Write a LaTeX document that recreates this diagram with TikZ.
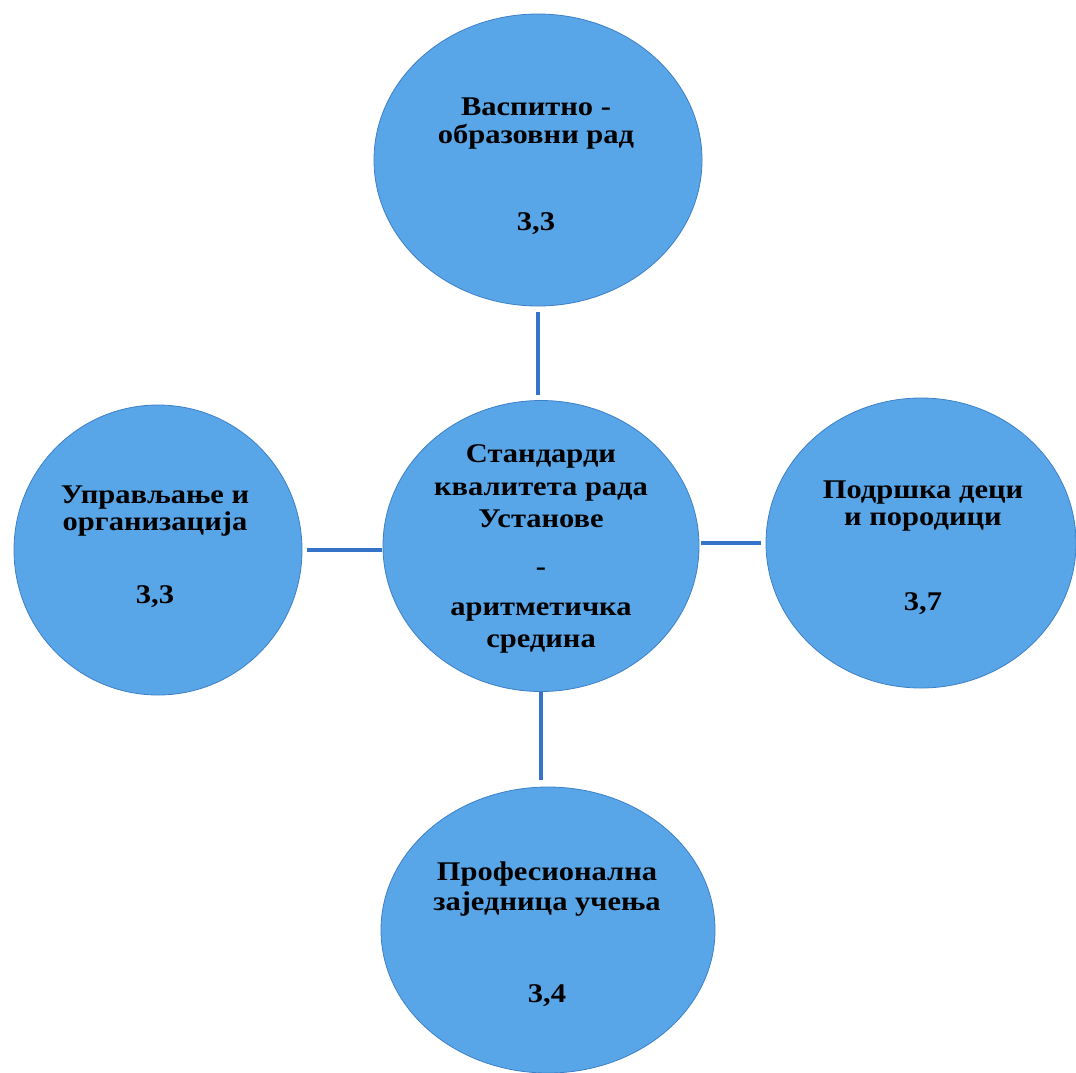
\documentclass[tikz,border=0pt]{standalone}
\usepackage{fontspec}
\setmainfont{Liberation Serif}[FakeStretch=1.13]
\usetikzlibrary{shapes.geometric}
\definecolor{bubblefill}{RGB}{88,166,232}
\definecolor{bubbleedge}{RGB}{62,128,200}
\definecolor{connblue}{RGB}{52,115,200}
\tikzset{
  bubble/.style={ellipse, fill=bubblefill, draw=bubbleedge, line width=0.8pt, inner sep=0pt},
  conn/.style={draw=connblue, line width=4.5pt},
  lbl/.style={anchor=base, inner sep=0pt, font=\fontsize{27}{30}\selectfont\bfseries, text=black}
}
\begin{document}
\begin{tikzpicture}[x=1pt,y=-1pt]
\useasboundingbox (0,0) rectangle (1076,1072);
\fill[white] (0,0) rectangle (1076,1072);
% bubbles
\node[bubble, minimum width=328pt, minimum height=292pt] (top) at (538,160) {};
\node[bubble, minimum width=316pt, minimum height=291pt] (ctr) at (541,546) {};
\node[bubble, minimum width=288pt, minimum height=290pt] (lft) at (158,550) {};
\node[bubble, minimum width=310pt, minimum height=290pt] (rgt) at (921,543) {};
\node[bubble, minimum width=334pt, minimum height=286pt] (bot) at (548,930) {};
% connectors
\draw[conn, shorten <=6pt, shorten >=5pt] (top.south) -- (top.south |- ctr.north);
\draw[conn, shorten <=5pt, shorten >=1pt] (lft.east) -- (lft.east -| ctr.west);
\draw[conn, shorten <=5pt, shorten >=2pt] (rgt.west) -- (rgt.west -| ctr.east);
\draw[conn, shorten <=0pt, shorten >=7pt] (ctr.south) -- (ctr.south |- bot.north);
% top texts
\node[lbl] (t1) at (536,115) {Васпитно -};
\node[lbl] (t2) at (536,143) {образовни рад};
\node[lbl] (t3) at (536,230) {3,3};
% left texts
\node[lbl] (l1) at (155,503) {Управљање и};
\node[lbl] (l2) at (155,530) {организација};
\node[lbl] (l3) at (155,603) {3,3};
% right texts
\node[lbl] (r1) at (923,498) {Подршка деци};
\node[lbl] (r2) at (923,525) {и породици};
\node[lbl] (r3) at (923,610) {3,7};
% bottom texts
\node[lbl] (b1) at (547,880) {Професионална};
\node[lbl] (b2) at (547,910) {заједница учења};
\node[lbl] (b3) at (547,1002) {3,4};
% center texts
\node[lbl] (c1) at (541,462) {Стандарди};
\node[lbl] (c2) at (541,495) {квалитета рада};
\node[lbl] (c3) at (541,527) {Установе};
\node[lbl] (c4) at (541,575) {-};
\node[lbl] (c5) at (541,615) {аритметичка};
\node[lbl] (c6) at (541,647) {средина};
\end{tikzpicture}
\end{document}
